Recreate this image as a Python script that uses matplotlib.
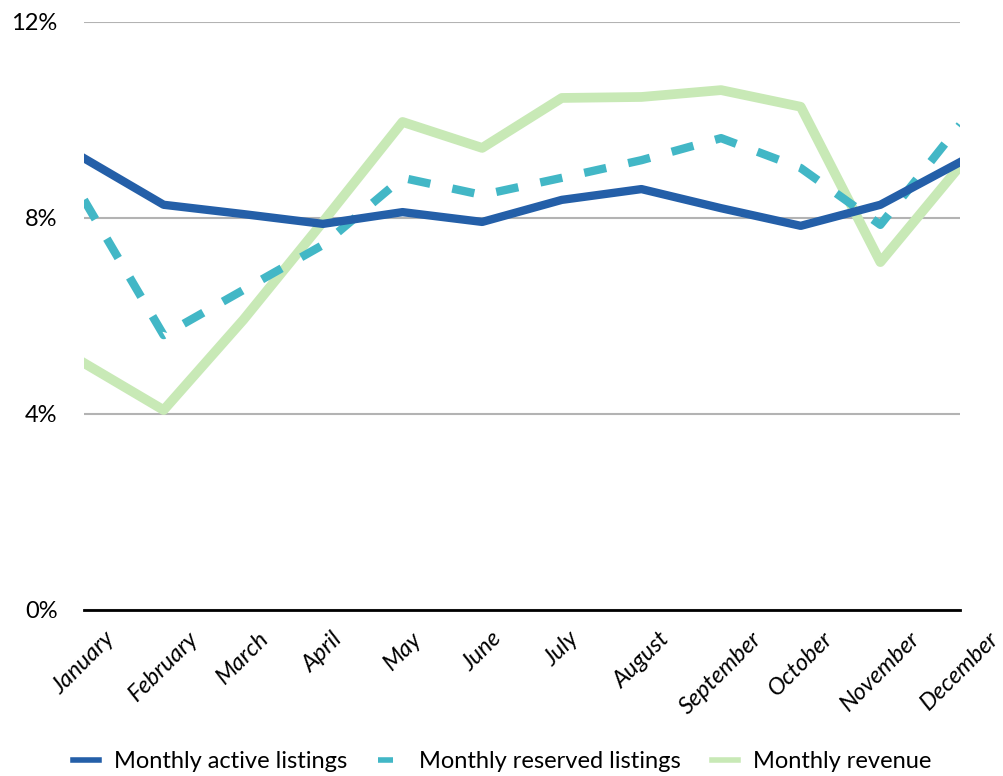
import matplotlib
matplotlib.use("Agg")
import matplotlib.pyplot as plt
from matplotlib.ticker import FuncFormatter

months = ["January", "February", "March", "April", "May", "June", "July",
          "August", "September", "October", "November", "December"]
# valeurs en %
active = [9.22, 8.27, 8.08, 7.88, 8.12, 7.92, 8.37, 8.59, 8.20, 7.84, 8.27, 9.14]
reserved = [8.37, 5.61, 6.53, 7.45, 8.82, 8.47, 8.82, 9.18, 9.63, 9.02, 7.86, 9.90]
revenue = [5.04, 4.08, 5.92, 7.92, 9.96, 9.43, 10.45, 10.47, 10.61, 10.27, 7.10, 9.06]

plt.rcParams["font.family"] = ["Lato", "DejaVu Sans"]

fig = plt.figure(figsize=(10.04, 7.76), dpi=100)
ax = fig.add_axes([84 / 1004, 1 - 610 / 776, (960 - 84) / 1004, (610 - 22) / 776])

x = range(len(months))
ax.plot(x, active, color="#245fa8", lw=6,
        label="Monthly active listings", zorder=4)
ax.plot(x, reserved, color="#42b7c6", lw=6, dashes=(2.7, 2.7),
        label="Monthly reserved listings", zorder=3)
ax.plot(x, revenue, color="#c8e9b6", lw=7, label="Monthly revenue", zorder=2)

ax.set_xlim(0, 11)
ax.set_ylim(0, 12)
ax.set_yticks([0, 4, 8, 12])
ax.yaxis.set_major_formatter(FuncFormatter(lambda v, p: f"{v:.0f}%"))
ax.grid(axis="y", color="#b3b3b3", lw=1.5)
ax.set_axisbelow(True)
for s in ["top", "right", "left"]:
    ax.spines[s].set_visible(False)
ax.spines["bottom"].set_linewidth(2)
ax.spines["bottom"].set_color("black")
ax.spines["bottom"].set_zorder(5)
ax.tick_params(axis="both", length=0, labelsize=17)
ax.tick_params(axis="y", pad=19)
ax.set_xticks(list(x))
ax.set_xticklabels(months, rotation=45, ha="center", va="top",
                   style="italic", fontsize=17)
ax.tick_params(axis="x", pad=13)

leg = fig.legend(loc="center", bbox_to_anchor=(0.5, 1 - 762 / 776), ncol=3,
                 frameon=False, fontsize=17, handlelength=1.1, columnspacing=1.3,
                 handletextpad=0.65)
for h in leg.get_lines():
    h.set_linewidth(4)

fig.savefig("out.png", dpi=100)
